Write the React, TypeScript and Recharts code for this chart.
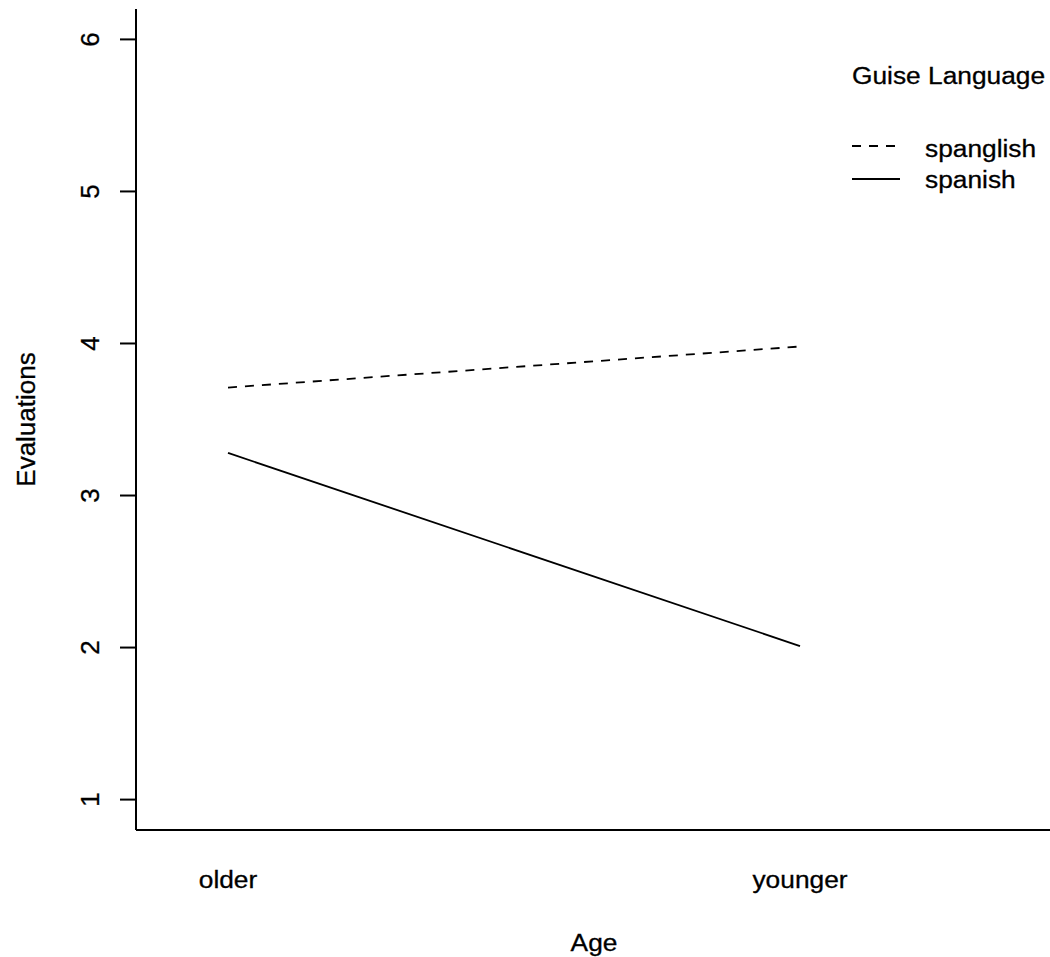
import React from 'react';
import { LineChart, Line, XAxis, YAxis, Legend } from 'recharts';

const ageLevels = ['older', 'younger'];
const spanglishValues = [3.71, 3.98];
const spanishValues = [3.28, 2.01];
const yTicks = [1, 2, 3, 4, 5, 6];
const legendTitle = 'Guise Language';
const seriesNames = ['spanglish', 'spanish'];

const data = ageLevels.map((age, i) => ({
  age,
  spanglish: spanglishValues[i],
  spanish: spanishValues[i],
}));

const FONT = 'Liberation Sans, Arial, Helvetica, sans-serif';
const FS = 23.5;
const SX = 1.12;
const FS_ROT = 26;

const T = ({ x, y, rot, anchor = 'middle', children }: any) => (
  <text
    transform={rot ? `translate(${x},${y}) rotate(-90)` : `translate(${x},${y}) scale(${SX},1)`}
    textAnchor={anchor}
    fontFamily={FONT}
    fontSize={rot ? FS_ROT : FS}
    fill="#000"
    stroke="#000"
    strokeWidth={0.3}
  >
    {children}
  </text>
);

const XTick = (props: any) => {
  const { x, y, payload } = props;
  return <T x={x} y={y + 58}>{payload.value}</T>;
};

const YTick = (props: any) => {
  const { x, y, payload } = props;
  return <T x={x - 21} y={y} rot>{payload.value}</T>;
};

const LegendContent = () => (
  <svg width={220} height={140} style={{ display: 'block', overflow: 'visible' }}>
    <T x={2} y={24} anchor="start">{legendTitle}</T>
    <line x1={2} x2={50} y1={86} y2={86} stroke="#000" strokeWidth={1.8} strokeDasharray="9 8" />
    <T x={75} y={97} anchor="start">{seriesNames[0]}</T>
    <line x1={2} x2={50} y1={119} y2={119} stroke="#000" strokeWidth={1.8} />
    <T x={75} y={128} anchor="start">{seriesNames[1]}</T>
  </svg>
);

export default function App() {
  return (
    <div
      style={{
        position: 'absolute',
        left: 0,
        top: 0,
        width: 1050,
        height: 957,
        overflow: 'hidden',
        background: '#fff',
      }}
    >
      <LineChart
        width={1052}
        height={957}
        data={data}
        margin={{ top: 9, right: 0, bottom: 0, left: 0 }}
      >
        <XAxis
          dataKey="age"
          type="category"
          padding={{ left: 92, right: 252 }}
          height={127}
          tickLine={false}
          tickSize={0}
          tickMargin={0}
          axisLine={{ stroke: '#000', strokeWidth: 2 }}
          tick={<XTick />}
          interval={0}
          label={{
            content: (p: any) => {
              const vb = p.viewBox;
              return <T x={vb.x + vb.width / 2} y={951}>Age</T>;
            },
          }}
        />
        <XAxis
          xAxisId="top"
          dataKey="age"
          orientation="top"
          height={0}
          tick={false}
          tickLine={false}
          axisLine={{ stroke: '#000', strokeWidth: 2 }}
        />
        <YAxis
          type="number"
          domain={[0.8, 6.2]}
          ticks={yTicks}
          width={136}
          tickSize={16}
          tickMargin={0}
          tickLine={{ stroke: '#000', strokeWidth: 2 }}
          axisLine={{ stroke: '#000', strokeWidth: 2 }}
          tick={<YTick />}
          interval={0}
          allowDataOverflow
          label={{
            content: (p: any) => {
              const vb = p.viewBox;
              return <T x={35} y={vb.y + vb.height / 2} rot>Evaluations</T>;
            },
          }}
        />
        <Legend
          layout="horizontal"
          verticalAlign="middle"
          align="center"
          content={<LegendContent />}
          wrapperStyle={{ position: 'absolute', left: 850, top: 60, width: 220, height: 140 }}
        />
        <Line
          type="linear"
          dataKey="spanglish"
          stroke="#000"
          strokeWidth={1.8}
          strokeDasharray="9 8"
          dot={false}
          activeDot={false}
          isAnimationActive={false}
        />
        <Line
          type="linear"
          dataKey="spanish"
          stroke="#000"
          strokeWidth={1.8}
          dot={false}
          activeDot={false}
          isAnimationActive={false}
        />
      </LineChart>
    </div>
  );
}
